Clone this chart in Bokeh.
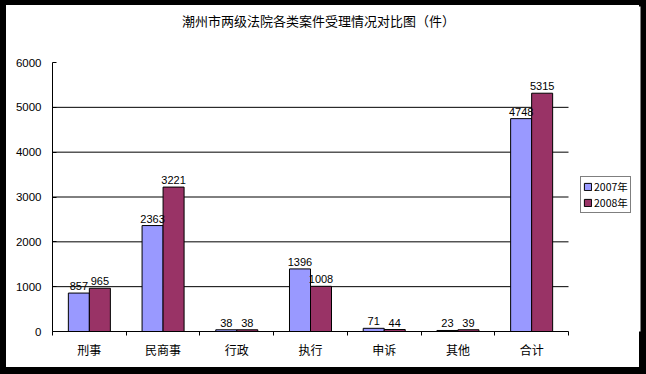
import numpy as np
from bokeh.plotting import figure
from bokeh.models import (ColumnDataSource, FixedTicker, Legend, LegendItem,
                          Range1d, LabelSet, Label)
from bokeh.core.properties import value
from bokeh.embed import file_html
from bokeh.resources import INLINE

categories = ["刑事", "民商事", "行政", "执行", "申诉", "其他", "合计"]
v2007 = [857, 2363, 38, 1396, 71, 23, 4748]
v2008 = [965, 3221, 38, 1008, 44, 39, 5315]
y_ticks = [0, 1000, 2000, 3000, 4000, 5000, 6000]
title_text = "潮州市两级法院各类案件受理情况对比图（件）"
series_names = ["2007年", "2008年"]
colors = ["#9999FF", "#993366"]

n = len(categories)
centers = np.arange(n) + 0.5
bw = 0.285

# frame spans 52..640 px horizontally, 6..331 px vertically;
# categories occupy 52..568 px, values 0..6000 occupy 331..62 px
W, H = 646, 374
fl, fr, ft, fb = 52, 640, 6, 331
x_max = n * (fr - fl) / (568 - fl)
y_max = y_ticks[-1] * (fb - ft) / (fb - 62)

src1 = ColumnDataSource(dict(x=centers - bw / 2, top=v2007, lab=[str(v) for v in v2007]))
src2 = ColumnDataSource(dict(x=centers + bw / 2, top=v2008, lab=[str(v) for v in v2008]))

p = figure(width=W, height=H, output_backend="svg", toolbar_location=None,
           x_range=Range1d(0, x_max), y_range=Range1d(0, y_max),
           min_border_left=fl, min_border_right=W - fr, min_border_top=ft,
           min_border_bottom=H - fb)
p.styles = {"background-color": "white",
            "box-shadow": "inset 6px 5px 0 0 black, inset -7px -7px 0 0 black"}
p.outline_line_color = None
p.background_fill_color = "white"
p.border_fill_color = None
p.border_fill_alpha = 0

p.add_layout(Label(x=318 - fl, y=fb - 20, x_units="screen", y_units="screen",
                   text=title_text, text_align="center", text_baseline="middle",
                   text_font="Noto Sans CJK SC", text_font_size="13px",
                   text_color="black"))

# grid lines at the y ticks, only across the category area
grid_vals = y_ticks[1:-1]
p.segment(x0=[0] * len(grid_vals), x1=[n] * len(grid_vals), y0=grid_vals, y1=grid_vals,
          line_color="black", line_width=1)

r1 = p.vbar(x="x", top="top", width=bw, source=src1, fill_color=colors[0],
            line_color="black", line_width=1)
r2 = p.vbar(x="x", top="top", width=bw, source=src2, fill_color=colors[1],
            line_color="black", line_width=1)

for s in (src1, src2):
    p.add_layout(LabelSet(x="x", y="top", text="lab", source=s, y_offset=3,
                          text_align="center", text_baseline="bottom",
                          text_font=value("Liberation Sans"), text_font_size=value("11px"),
                          text_color=value("black")))

# axes
p.yaxis.bounds = (y_ticks[0], y_ticks[-1])
p.yaxis.ticker = FixedTicker(ticks=y_ticks)
p.yaxis.major_tick_in = 4
p.yaxis.major_tick_out = 0
p.yaxis.minor_tick_line_color = None
p.yaxis.axis_line_color = "black"
p.yaxis.major_label_text_font = "Liberation Sans"
p.yaxis.major_label_text_font_size = "11.5px"
p.yaxis.major_label_text_color = "black"
p.yaxis.major_label_standoff = 11

p.xaxis.bounds = (0, n)
p.xaxis.ticker = FixedTicker(ticks=list(centers), minor_ticks=list(range(n + 1)))
p.xaxis.major_label_overrides = {float(c): categories[i] for i, c in enumerate(centers)}
p.xaxis.major_tick_line_color = None
p.xaxis.major_tick_out = 0
p.xaxis.major_tick_in = 0
p.xaxis.minor_tick_out = 4
p.xaxis.minor_tick_in = 0
p.xaxis.minor_tick_line_color = "black"
p.xaxis.axis_line_color = "black"
p.xaxis.major_label_text_font = "Noto Sans CJK SC"
p.xaxis.major_label_text_font_size = "12px"
p.xaxis.major_label_text_color = "black"
p.xaxis.major_label_standoff = 5

p.xgrid.grid_line_color = None
p.ygrid.grid_line_color = None

legend = Legend(items=[LegendItem(label=series_names[0], renderers=[r1]),
                       LegendItem(label=series_names[1], renderers=[r2])],
                location=(580 - fl, fb - 213), orientation="vertical",
                border_line_color="black", border_line_width=1,
                background_fill_color="white", background_fill_alpha=1,
                label_text_font="Noto Sans CJK SC", label_text_font_size="10.5px",
                label_text_line_height=1.0,
                label_text_color="black", glyph_width=9, glyph_height=9,
                label_height=12, label_standoff=2, padding=2, spacing=1, margin=0)
p.add_layout(legend, "center")

open("out.html", "w").write(file_html(p, INLINE))
